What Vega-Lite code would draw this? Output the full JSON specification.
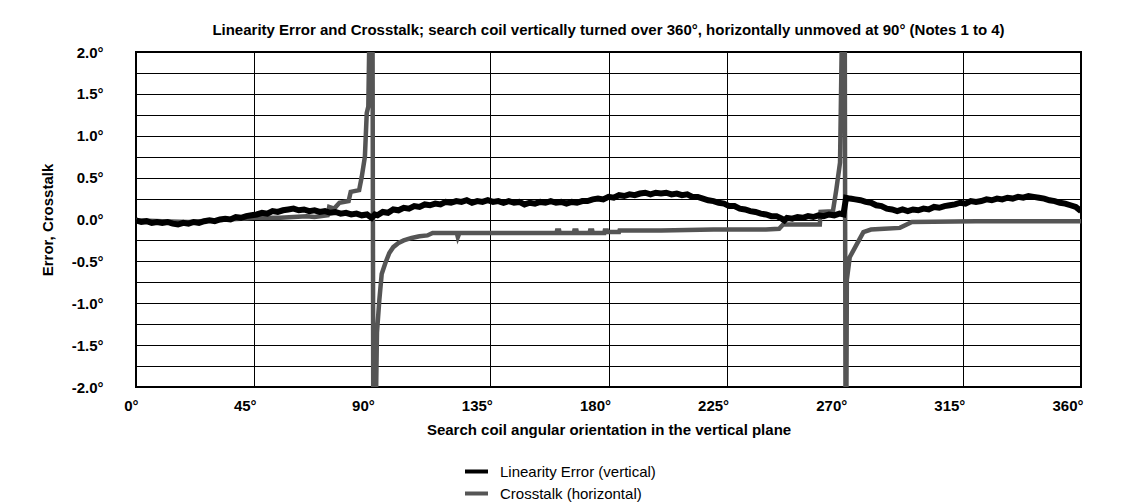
{
  "$schema": "https://vega.github.io/schema/vega-lite/v6.json",
  "width": 945,
  "height": 335,
  "autosize": {"type": "none"},
  "padding": {"left": 136, "top": 52, "right": 50, "bottom": 116},
  "background": "white",
  "title": {
    "text": "Linearity Error and Crosstalk; search coil vertically turned over 360°, horizontally unmoved at 90° (Notes 1 to 4)",
    "font": "Liberation Sans",
    "fontSize": 15,
    "fontWeight": "bold",
    "color": "black",
    "offset": 7
  },
  "datasets": {
    "cross": [
      {"angle": 0, "error": -0.01}, {"angle": 10, "error": -0.02}, {"angle": 20, "error": -0.03},
      {"angle": 30, "error": -0.01}, {"angle": 40, "error": 0.01}, {"angle": 45, "error": 0.02},
      {"angle": 55, "error": 0.02}, {"angle": 60, "error": 0.03}, {"angle": 65, "error": 0.04},
      {"angle": 68, "error": 0.03}, {"angle": 73, "error": 0.05}, {"angle": 73.6, "error": 0.15},
      {"angle": 75.5, "error": 0.13}, {"angle": 77.5, "error": 0.2}, {"angle": 81, "error": 0.22},
      {"angle": 81.8, "error": 0.33}, {"angle": 85, "error": 0.35}, {"angle": 86, "error": 0.51},
      {"angle": 87.2, "error": 0.75}, {"angle": 87.9, "error": 1.27}, {"angle": 88.5, "error": 1.35},
      {"angle": 89.0, "error": 2.4}, {"angle": 90.1, "error": 2.4}, {"angle": 90.4, "error": -2.4},
      {"angle": 91.3, "error": -2.4}, {"angle": 91.8, "error": -1.35}, {"angle": 92.7, "error": -0.96},
      {"angle": 93.6, "error": -0.65}, {"angle": 95, "error": -0.52}, {"angle": 96.5, "error": -0.4},
      {"angle": 98, "error": -0.33}, {"angle": 100, "error": -0.28}, {"angle": 102, "error": -0.25},
      {"angle": 105, "error": -0.22}, {"angle": 108, "error": -0.2}, {"angle": 111, "error": -0.19},
      {"angle": 113, "error": -0.16}, {"angle": 122.2, "error": -0.16}, {"angle": 122.6, "error": -0.21},
      {"angle": 123.2, "error": -0.16}, {"angle": 160.2, "error": -0.16}, {"angle": 160.4, "error": -0.13},
      {"angle": 161.2, "error": -0.13}, {"angle": 161.4, "error": -0.16}, {"angle": 166.8, "error": -0.16},
      {"angle": 167, "error": -0.13}, {"angle": 167.8, "error": -0.13}, {"angle": 168, "error": -0.16},
      {"angle": 172.8, "error": -0.16}, {"angle": 173, "error": -0.13}, {"angle": 173.8, "error": -0.13},
      {"angle": 174, "error": -0.16}, {"angle": 178.4, "error": -0.16}, {"angle": 178.6, "error": -0.13},
      {"angle": 179.4, "error": -0.13}, {"angle": 179.6, "error": -0.15}, {"angle": 184, "error": -0.15},
      {"angle": 184.2, "error": -0.13}, {"angle": 190, "error": -0.13}, {"angle": 200, "error": -0.13},
      {"angle": 220, "error": -0.12}, {"angle": 240, "error": -0.12}, {"angle": 245, "error": -0.11},
      {"angle": 246.5, "error": -0.06}, {"angle": 255, "error": -0.06}, {"angle": 260.5, "error": -0.06},
      {"angle": 260.8, "error": 0.09}, {"angle": 265.5, "error": 0.1}, {"angle": 266.8, "error": 0.36},
      {"angle": 268.2, "error": 0.68}, {"angle": 269.0, "error": 2.4}, {"angle": 270.0, "error": 2.4},
      {"angle": 270.3, "error": -2.4}, {"angle": 270.6, "error": -2.4}, {"angle": 270.8, "error": -0.72},
      {"angle": 271.9, "error": -0.45}, {"angle": 274.5, "error": -0.3}, {"angle": 277.1, "error": -0.15},
      {"angle": 280, "error": -0.12}, {"angle": 285, "error": -0.11}, {"angle": 291, "error": -0.1},
      {"angle": 295.6, "error": -0.03}, {"angle": 320, "error": -0.02}, {"angle": 360, "error": -0.02}
    ],
    "lin": [
      {"angle": 0, "error": -0.01}, {"angle": 2, "error": -0.03}, {"angle": 4, "error": -0.02},
      {"angle": 6, "error": -0.04}, {"angle": 8, "error": -0.03}, {"angle": 10, "error": -0.04},
      {"angle": 12, "error": -0.03}, {"angle": 14, "error": -0.05}, {"angle": 16, "error": -0.06},
      {"angle": 18, "error": -0.04}, {"angle": 20, "error": -0.05}, {"angle": 22, "error": -0.03},
      {"angle": 24, "error": -0.04}, {"angle": 26, "error": -0.02}, {"angle": 28, "error": -0.01},
      {"angle": 30, "error": -0.02}, {"angle": 32, "error": 0.0}, {"angle": 34, "error": 0.01},
      {"angle": 36, "error": 0.0}, {"angle": 38, "error": 0.03}, {"angle": 40, "error": 0.02},
      {"angle": 42, "error": 0.04}, {"angle": 44, "error": 0.05}, {"angle": 46, "error": 0.06},
      {"angle": 48, "error": 0.08}, {"angle": 50, "error": 0.07}, {"angle": 52, "error": 0.1},
      {"angle": 54, "error": 0.09}, {"angle": 56, "error": 0.11}, {"angle": 58, "error": 0.12},
      {"angle": 60, "error": 0.13}, {"angle": 62, "error": 0.11}, {"angle": 64, "error": 0.12},
      {"angle": 66, "error": 0.1}, {"angle": 68, "error": 0.11}, {"angle": 70, "error": 0.09},
      {"angle": 72, "error": 0.1}, {"angle": 74, "error": 0.08}, {"angle": 76, "error": 0.09},
      {"angle": 78, "error": 0.07}, {"angle": 80, "error": 0.08}, {"angle": 82, "error": 0.06},
      {"angle": 84, "error": 0.07}, {"angle": 86, "error": 0.05}, {"angle": 88, "error": 0.06},
      {"angle": 89.8, "error": 0.02}, {"angle": 91, "error": 0.06}, {"angle": 92, "error": 0.05},
      {"angle": 94, "error": 0.09}, {"angle": 96, "error": 0.08}, {"angle": 98, "error": 0.12},
      {"angle": 100, "error": 0.11}, {"angle": 102, "error": 0.14}, {"angle": 104, "error": 0.13},
      {"angle": 106, "error": 0.16}, {"angle": 108, "error": 0.15}, {"angle": 110, "error": 0.18},
      {"angle": 112, "error": 0.17}, {"angle": 114, "error": 0.19}, {"angle": 116, "error": 0.18},
      {"angle": 118, "error": 0.21}, {"angle": 120, "error": 0.2}, {"angle": 122, "error": 0.22},
      {"angle": 124, "error": 0.21}, {"angle": 126, "error": 0.23}, {"angle": 128, "error": 0.2},
      {"angle": 130, "error": 0.22}, {"angle": 132, "error": 0.21}, {"angle": 134, "error": 0.23},
      {"angle": 136, "error": 0.21}, {"angle": 138, "error": 0.22}, {"angle": 140, "error": 0.2},
      {"angle": 142, "error": 0.22}, {"angle": 144, "error": 0.2}, {"angle": 146, "error": 0.21},
      {"angle": 148, "error": 0.18}, {"angle": 150, "error": 0.2}, {"angle": 152, "error": 0.19},
      {"angle": 154, "error": 0.21}, {"angle": 156, "error": 0.2}, {"angle": 158, "error": 0.22},
      {"angle": 160, "error": 0.2}, {"angle": 162, "error": 0.21}, {"angle": 164, "error": 0.19},
      {"angle": 166, "error": 0.21}, {"angle": 168, "error": 0.2}, {"angle": 170, "error": 0.22},
      {"angle": 172, "error": 0.22}, {"angle": 174, "error": 0.24}, {"angle": 176, "error": 0.25},
      {"angle": 178, "error": 0.24}, {"angle": 180, "error": 0.27}, {"angle": 182, "error": 0.26},
      {"angle": 184, "error": 0.29}, {"angle": 186, "error": 0.28}, {"angle": 188, "error": 0.3},
      {"angle": 190, "error": 0.29}, {"angle": 192, "error": 0.31}, {"angle": 194, "error": 0.32},
      {"angle": 196, "error": 0.3}, {"angle": 198, "error": 0.32}, {"angle": 200, "error": 0.31},
      {"angle": 202, "error": 0.32}, {"angle": 204, "error": 0.3}, {"angle": 206, "error": 0.31},
      {"angle": 208, "error": 0.29}, {"angle": 210, "error": 0.3}, {"angle": 212, "error": 0.27},
      {"angle": 214, "error": 0.27}, {"angle": 216, "error": 0.25}, {"angle": 218, "error": 0.23},
      {"angle": 220, "error": 0.22}, {"angle": 222, "error": 0.2}, {"angle": 224, "error": 0.19},
      {"angle": 226, "error": 0.16}, {"angle": 228, "error": 0.16}, {"angle": 230, "error": 0.13},
      {"angle": 232, "error": 0.12}, {"angle": 234, "error": 0.1}, {"angle": 236, "error": 0.09},
      {"angle": 238, "error": 0.07}, {"angle": 240, "error": 0.06}, {"angle": 242, "error": 0.04},
      {"angle": 244, "error": 0.04}, {"angle": 246, "error": 0.01}, {"angle": 247, "error": -0.01},
      {"angle": 248, "error": 0.02}, {"angle": 250, "error": 0.01}, {"angle": 252, "error": 0.03},
      {"angle": 254, "error": 0.02}, {"angle": 256, "error": 0.04}, {"angle": 258, "error": 0.03},
      {"angle": 260, "error": 0.05}, {"angle": 262, "error": 0.04}, {"angle": 264, "error": 0.06},
      {"angle": 266, "error": 0.05}, {"angle": 268, "error": 0.07}, {"angle": 269.5, "error": 0.06},
      {"angle": 270.5, "error": 0.26}, {"angle": 272, "error": 0.25}, {"angle": 274, "error": 0.24},
      {"angle": 276, "error": 0.23}, {"angle": 278, "error": 0.21}, {"angle": 280, "error": 0.2},
      {"angle": 282, "error": 0.17}, {"angle": 284, "error": 0.16}, {"angle": 286, "error": 0.13},
      {"angle": 288, "error": 0.12}, {"angle": 290, "error": 0.1}, {"angle": 292, "error": 0.12},
      {"angle": 294, "error": 0.1}, {"angle": 296, "error": 0.12}, {"angle": 298, "error": 0.11},
      {"angle": 300, "error": 0.13}, {"angle": 302, "error": 0.12}, {"angle": 304, "error": 0.15},
      {"angle": 306, "error": 0.14}, {"angle": 308, "error": 0.16}, {"angle": 310, "error": 0.17},
      {"angle": 312, "error": 0.18}, {"angle": 314, "error": 0.2}, {"angle": 316, "error": 0.19},
      {"angle": 318, "error": 0.22}, {"angle": 320, "error": 0.21}, {"angle": 322, "error": 0.22},
      {"angle": 324, "error": 0.24}, {"angle": 326, "error": 0.23}, {"angle": 328, "error": 0.25},
      {"angle": 330, "error": 0.24}, {"angle": 332, "error": 0.26}, {"angle": 334, "error": 0.25},
      {"angle": 336, "error": 0.27}, {"angle": 338, "error": 0.26}, {"angle": 340, "error": 0.28},
      {"angle": 342, "error": 0.27}, {"angle": 344, "error": 0.26}, {"angle": 346, "error": 0.25},
      {"angle": 348, "error": 0.23}, {"angle": 350, "error": 0.22}, {"angle": 352, "error": 0.2},
      {"angle": 354, "error": 0.19}, {"angle": 356, "error": 0.17}, {"angle": 358, "error": 0.15},
      {"angle": 360, "error": 0.1}
    ]
  },
  "encoding": {
    "x": {
      "field": "angle",
      "type": "quantitative",
      "scale": {"domain": [0, 360], "nice": false, "zero": false},
      "axis": {
        "values": [0, 45, 90, 135, 180, 225, 270, 315, 360],
        "labelExpr": "datum.value + '°'",
        "title": "Search coil angular orientation in the vertical plane",
        "grid": true,
        "gridColor": "black",
        "gridOpacity": 1,
        "gridWidth": 1,
        "ticks": false,
        "domain": false,
        "labelFont": "Liberation Sans",
        "labelFontSize": 15,
        "labelFontWeight": "bold",
        "labelColor": "black",
        "labelAlign": "right",
        "labelOffset": 2,
        "labelFlush": false,
        "labelOverlap": false,
        "labelPadding": 11,
        "titleFont": "Liberation Sans",
        "titleFontSize": 15,
        "titleFontWeight": "bold",
        "titleColor": "black",
        "titlePadding": 9
      }
    },
    "y": {
      "field": "error",
      "type": "quantitative",
      "scale": {"domain": [-2, 2], "nice": false, "zero": false},
      "axis": {
        "values": [-2, -1.75, -1.5, -1.25, -1, -0.75, -0.5, -0.25, 0, 0.25, 0.5, 0.75, 1, 1.25, 1.5, 1.75, 2],
        "labelExpr": "abs(datum.value * 2 - round(datum.value * 2)) < 0.01 ? (datum.value < 0 ? '-' : '') + format(abs(datum.value), '.1f') + '°' : ''",
        "title": "Error, Crosstalk",
        "grid": true,
        "gridColor": "black",
        "gridOpacity": 1,
        "gridWidth": 1,
        "ticks": false,
        "domain": false,
        "labelFont": "Liberation Sans",
        "labelFontSize": 15,
        "labelFontWeight": "bold",
        "labelColor": "black",
        "labelFlush": false,
        "labelOverlap": false,
        "labelPadding": 33,
        "titleFont": "Liberation Sans",
        "titleFontSize": 15,
        "titleFontWeight": "bold",
        "titleColor": "black",
        "titlePadding": 16
      }
    }
  },
  "layer": [
    {
      "data": {"name": "cross"},
      "mark": {"type": "line", "strokeWidth": 4.5, "clip": true},
      "encoding": {
        "color": {
          "datum": "Crosstalk (horizontal)",
          "scale": {"domain": ["Linearity Error (vertical)", "Crosstalk (horizontal)"], "range": ["#000000", "#555555"]},
          "legend": {
            "title": null,
            "orient": "none",
            "legendX": 327,
            "legendY": 406,
            "symbolType": "stroke",
            "symbolStrokeWidth": 4,
            "symbolSize": 529,
            "labelFont": "Liberation Sans",
            "labelFontSize": 15,
            "labelColor": "black",
            "labelOffset": 10,
            "rowPadding": 0,
            "padding": 0
          }
        }
      }
    },
    {
      "data": {"name": "lin"},
      "mark": {"type": "line", "strokeWidth": 6, "clip": true},
      "encoding": {
        "color": {"datum": "Linearity Error (vertical)"}
      }
    }
  ],
  "config": {
    "view": {"stroke": "black", "strokeWidth": 2}
  }
}
